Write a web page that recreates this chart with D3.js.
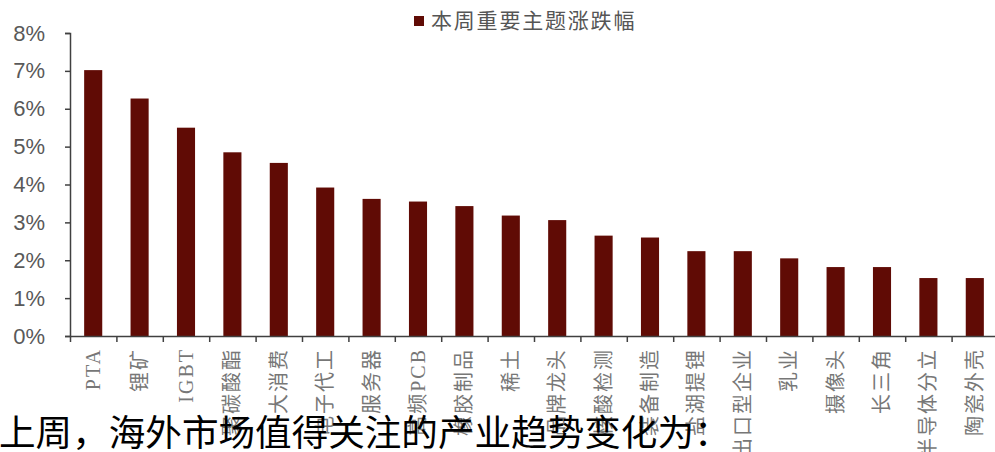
<!DOCTYPE html>
<html lang="zh-CN">
<head>
<meta charset="UTF-8">
<title>本周重要主题涨跌幅</title>
<style>
  html, body { margin: 0; padding: 0; background: #fff; }
  svg { display: block; }
</style>
</head>
<body>
<svg id="chart" width="995" height="452"></svg>
<script src="https://d3js.org/d3.v7.min.js"></script>
<script>
// --- data ---
const themes = ["PTA", "锂矿", "IGBT", "聚碳酸酯", "大消费", "电子代工", "服务器", "高频PCB", "橡胶制品", "稀土",
                "品牌龙头", "核酸检测", "装备制造", "盐湖提锂", "出口型企业", "乳业", "摄像头", "长三角", "半导体分立", "陶瓷外壳"];
const changes = [0.0702, 0.0627, 0.0550, 0.0485, 0.0457, 0.0392, 0.0362, 0.0355, 0.0343, 0.0318,
                 0.0306, 0.0265, 0.0260, 0.0224, 0.0224, 0.0205, 0.0182, 0.0182, 0.0153, 0.0153];
const yTicks = [0, 0.01, 0.02, 0.03, 0.04, 0.05, 0.06, 0.07, 0.08];
const legendLabel = "本周重要主题涨跌幅";
const caption = "上周，海外市场值得关注的产业趋势变化为：";

const data = themes.map((t, i) => ({ theme: t, value: changes[i] }));

const svg = d3.select("#chart");
const barColor = "#600b05";
const axisColor = "#404040";

const x = d3.scaleBand()
    .domain(themes)
    .range([70, 998])
    .paddingInner(0.61)
    .paddingOuter(0.305);

const y = d3.scaleLinear()
    .domain([0, 0.08])
    .range([336, 33]);

// category boundaries for x ticks
const xEdge = d3.scaleLinear().domain([0, themes.length]).range([70, 998]);

// bars
svg.selectAll(".bar")
    .data(data)
    .join("rect")
    .attr("class", "bar")
    .attr("x", d => x(d.theme))
    .attr("y", d => y(d.value))
    .attr("width", x.bandwidth())
    .attr("height", d => y(0) - y(d.value))
    .attr("fill", barColor);

// y axis
const yAxis = svg.append("g")
    .attr("transform", "translate(70,0)")
    .call(d3.axisLeft(y).tickValues(yTicks).tickFormat(d3.format(".0%")).tickSize(5).tickPadding(20));
yAxis.select(".domain").attr("stroke", axisColor).attr("stroke-width", 1.5);
yAxis.selectAll(".tick line").attr("stroke", axisColor).attr("stroke-width", 1.5);
yAxis.selectAll(".tick text")
    .attr("font-family", "'Liberation Sans', Arial, sans-serif")
    .attr("font-size", 22)
    .attr("fill", "#595959");

// x axis (ticks between categories)
const xAxis = svg.append("g")
    .attr("transform", `translate(0,${y(0)})`)
    .call(d3.axisBottom(xEdge).tickValues(d3.range(0, themes.length + 1)).tickFormat("").tickSize(6).tickSizeOuter(0));
xAxis.select(".domain").attr("stroke", axisColor).attr("stroke-width", 1.5);
xAxis.selectAll(".tick line").attr("stroke", axisColor).attr("stroke-width", 1.5);

// category labels, rotated
svg.selectAll(".xlabel")
    .data(themes)
    .join("text")
    .attr("class", "xlabel")
    .attr("transform", d => `translate(${x(d) + x.bandwidth() / 2},348) rotate(-90)`)
    .attr("text-anchor", "end")
    .attr("dy", "0.35em")
    .attr("font-family", "'Liberation Serif', 'Noto Sans CJK SC', serif")
    .attr("font-size", 20)
    .attr("letter-spacing", 2)
    .attr("fill", "#777")
    .text(d => d);

// legend
svg.append("rect")
    .attr("x", 414).attr("y", 16)
    .attr("width", 10).attr("height", 10)
    .attr("fill", barColor);
svg.append("text")
    .attr("x", 431).attr("y", 21)
    .attr("dy", "0.35em")
    .attr("font-family", "'Noto Sans CJK SC', sans-serif")
    .attr("font-size", 21)
    .attr("letter-spacing", 1.8)
    .attr("fill", "#555")
    .text(legendLabel);

// caption text from the article, drawn over the chart bottom
svg.append("text")
    .attr("x", -1).attr("y", 446)
    .attr("font-family", "'Noto Sans CJK SC', sans-serif")
    .attr("font-size", 36.6)
    .attr("fill", "#000")
    .text(caption);
</script>
</body>
</html>
